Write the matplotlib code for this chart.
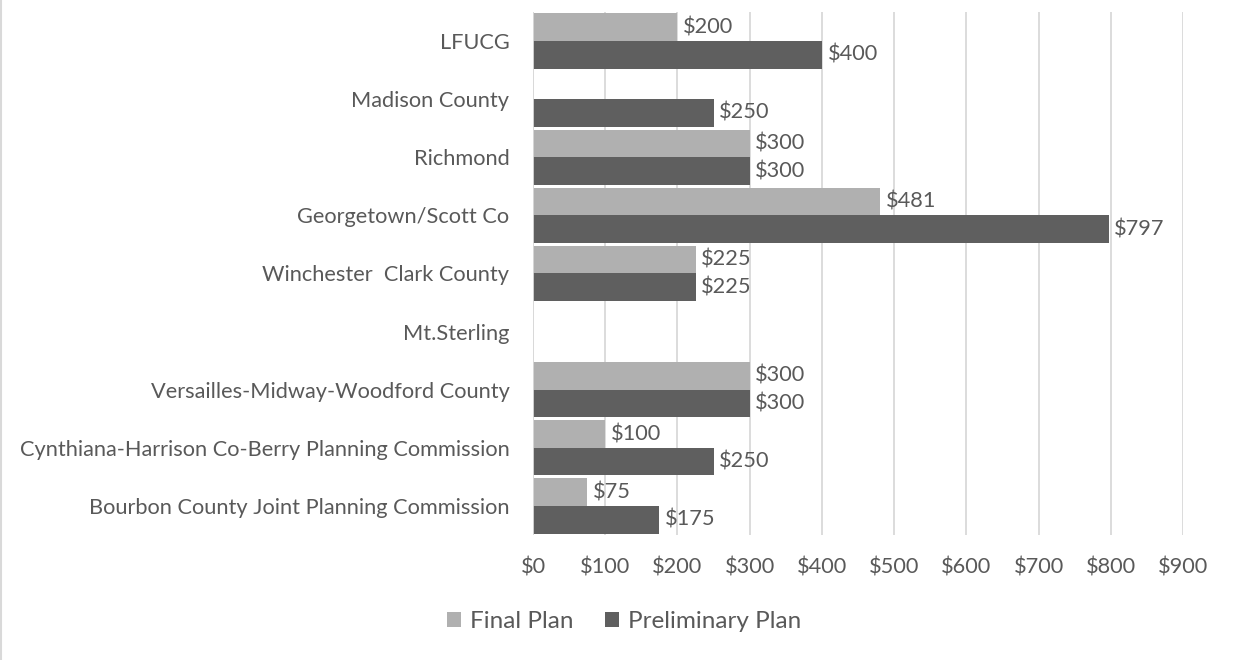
import matplotlib
matplotlib.use("Agg")
import matplotlib.pyplot as plt
import numpy as np

categories = [
    "LFUCG",
    "Madison County",
    "Richmond",
    "Georgetown/Scott Co",
    "Winchester  Clark County",
    "Mt.Sterling",
    "Versailles-Midway-Woodford County",
    "Cynthiana-Harrison Co-Berry Planning Commission",
    "Bourbon County Joint Planning Commission",
]
final_plan = [200, None, 300, 481, 225, None, 300, 100, 75]
preliminary_plan = [400, 250, 300, 797, 225, None, 300, 250, 175]
xticks = [0, 100, 200, 300, 400, 500, 600, 700, 800, 900]

plt.rcParams['font.family'] = ['Lato', 'DejaVu Sans']
txt = '#595959'
c_final = '#b0b0b0'
c_pre = '#5f5f5f'
fs = 15.7

fig = plt.figure(figsize=(12.34, 6.6), dpi=100)
ax = fig.add_axes([533/1234, 1-535/660, 650/1234, 523/660])

n = len(categories)
y = np.arange(n)
h = 0.475
fv = np.array([np.nan if v is None else v for v in final_plan], dtype=float)
pv = np.array([np.nan if v is None else v for v in preliminary_plan], dtype=float)

b1 = ax.barh(y - h/2, fv, height=h, color=c_final, label='Final Plan', zorder=3)
b2 = ax.barh(y + h/2, pv, height=h, color=c_pre, label='Preliminary Plan', zorder=3)

for bars, vals in ((b1, fv), (b2, pv)):
    for rect, v in zip(bars, vals):
        if np.isnan(v):
            continue
        ax.annotate(f"${int(v)}", (v, rect.get_y() + rect.get_height()/2),
                    xytext=(4, 0), textcoords='offset points',
                    va='center', ha='left', fontsize=fs, color=txt)

ax.set_ylim(n - 0.5, -0.5)
ax.set_xlim(0, 900)
ax.set_yticks(y)
ax.set_yticklabels(categories, fontsize=fs, color=txt)
ax.set_xticks(xticks)
ax.set_xticklabels([f"${v}" for v in xticks], fontsize=fs, color=txt)
ax.tick_params(axis='both', length=0)
ax.tick_params(axis='y', pad=17)
ax.tick_params(axis='x', pad=16)
ax.grid(axis='x', color='#d9d9d9', linewidth=1.3, zorder=0)
for s in ax.spines.values():
    s.set_visible(False)
ax.axvline(0, color='#d9d9d9', linewidth=1.3, zorder=4)

leg = fig.legend(handles=[b1, b2], loc='center', bbox_to_anchor=(624/1234, 1-622/660),
                 ncol=2, frameon=False, fontsize=17.5, handlelength=0.58, handleheight=0.58,
                 columnspacing=1.3, handletextpad=0.35)
for t in leg.get_texts():
    t.set_color(txt)

fig.add_artist(plt.Line2D([1/1234, 1/1234], [0, 1], color='#d9d9d9', linewidth=1.5))

fig.savefig('out.png', dpi=100, facecolor='white')
